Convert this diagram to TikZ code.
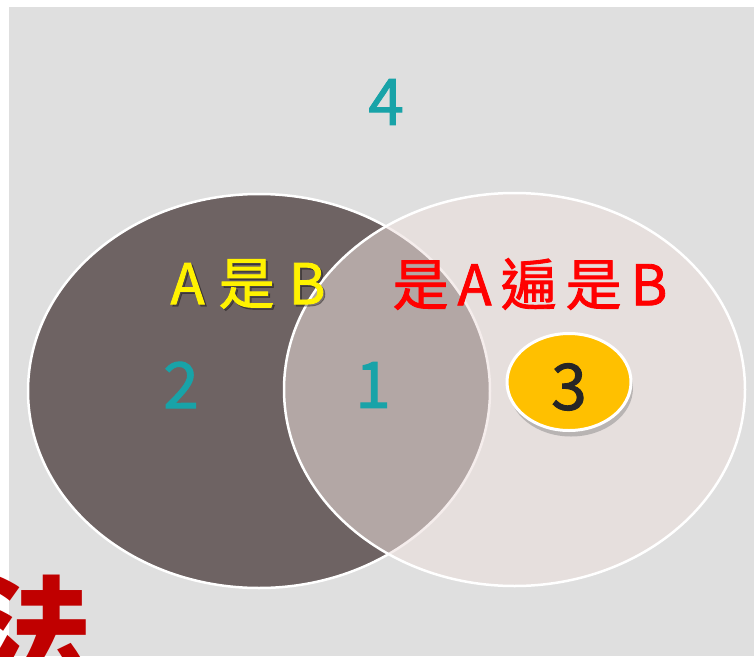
\documentclass[tikz,border=0pt]{standalone}
\usepackage{fontspec}
\setmainfont{Noto Sans CJK TC}
\newfontfamily\medfont[FakeBold=1.5]{Noto Sans CJK TC}
\usetikzlibrary{shadows,shapes.geometric}
\definecolor{bggray}{RGB}{223,223,223}
\definecolor{leftc}{RGB}{110,99,99}
\definecolor{rightc}{RGB}{237,223,221}
\definecolor{tealnum}{RGB}{24,163,168}
\definecolor{gold}{RGB}{255,192,0}
\definecolor{darkred}{RGB}{192,0,0}
\definecolor{numdark}{RGB}{38,38,38}
\tikzset{
  num/.style={text=tealnum, font=\medfont\fontsize{64}{64}\selectfont, inner sep=0pt},
  lab/.style={font=\medfont\fontsize{56}{56}\selectfont, inner sep=0pt},
}
\newcommand{\gp}{\hspace{9pt}}
\newcommand{\gq}{\hspace{14pt}}
\begin{document}
\begin{tikzpicture}[x=1pt,y=-1pt]
\useasboundingbox (0,0) rectangle (755,656);
\fill[white] (0,0) rectangle (755,656);
\fill[bggray] (9,7) rectangle (754,656);
% left set
\draw[white, line width=2.5pt, fill=leftc] (259,391) ellipse [x radius=231, y radius=197];
% right set
\fill[rightc, fill opacity=0.55] (514.5,389.5) ellipse [x radius=230.5, y radius=196.5];
\draw[white, line width=2.5pt] (514.5,389.5) ellipse [x radius=230.5, y radius=196.5];
% labels
\node[num] (n4) at (386,102) {4};
\node[num] (n2) at (181,385) {2};
\node[num] (n1) at (373,385) {1};
\node[lab, text=black, text opacity=0.3] (abs) at (250,286) {A\gq 是\gq B};
\node[lab, text=yellow] (ab) at (248,284) {A\gq 是\gq B};
\node[lab, text=red] (ra) at (530,284) {是\gp A\gp 遍\gp 是\gp B};
% element 3
\node[ellipse, minimum width=124pt, minimum height=97pt, fill=gold, draw=white, line width=3pt,
  drop shadow={shadow xshift=2pt, shadow yshift=-6pt, fill=black!50, opacity=0.45},
  inner sep=0pt] (n3) at (569,382) {};
\node[font=\medfont\fontsize{64}{64}\selectfont, text=numdark, inner sep=0pt] at (569,387) {3};
% big char
\node[font=\fontsize{114}{114}\selectfont\bfseries, text=darkred, inner sep=0pt] (fa) at (36,629) {法};
\end{tikzpicture}
\end{document}
